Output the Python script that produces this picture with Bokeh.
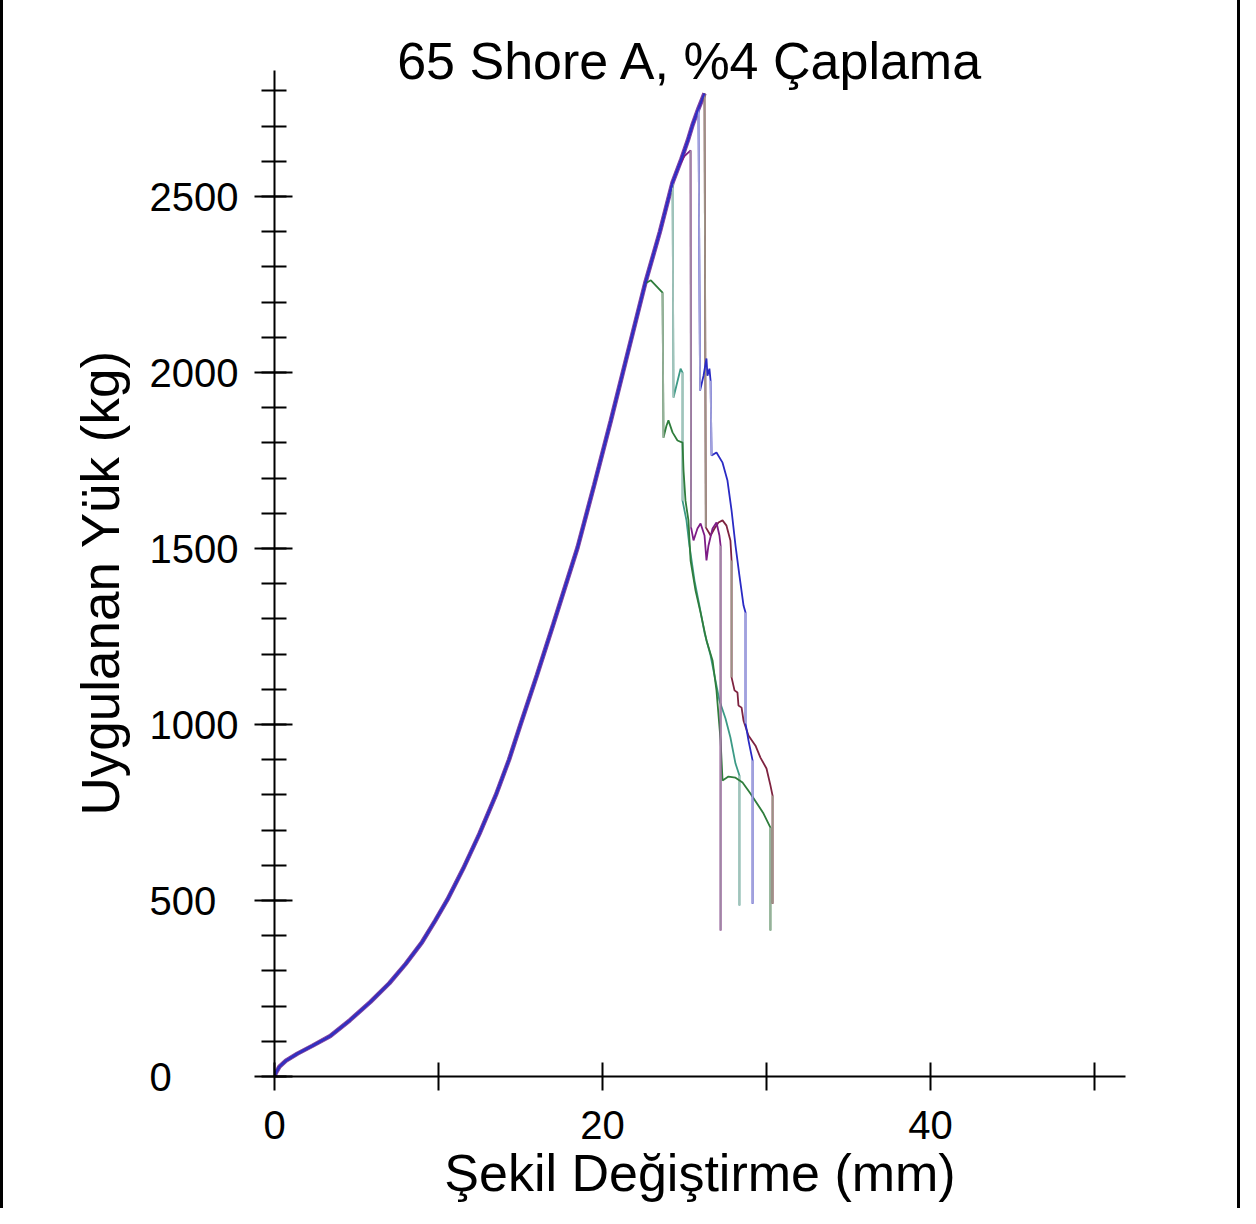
from bokeh.plotting import figure
from bokeh.models import SingleIntervalTicker, FixedTicker, Label, Range1d
from bokeh.embed import file_html
from bokeh.resources import INLINE

# ---- data (mm, kg) ----
rise_x = [0, 0.1, 0.3, 0.7, 1.4, 2.3, 3.4, 4.6, 5.85, 7.0, 8.0, 9.0, 9.8, 10.55, 11.5, 12.5,
          13.5, 14.3, 15.0, 16.0, 17.0, 18.48, 19.5, 20.5, 21.4, 22.6, 23.5, 24.27, 24.8,
          25.2, 25.5, 25.85, 26.22]
rise_y = [0, 12, 28, 45, 65, 87, 115, 160, 212, 265, 320, 382, 443, 503, 590, 690,
          800, 900, 1000, 1140, 1285, 1503, 1682, 1862, 2030, 2253, 2400, 2540, 2605,
          2659, 2705, 2750, 2793]

teal_x = [24.27, 24.33, 24.51, 24.76, 24.88, 24.88, 25.12, 25.3, 25.61, 25.91, 26.22, 26.59,
          26.83, 27.13, 27.5, 27.8, 28.11, 28.35, 28.35]
teal_y = [2540, 1929, 1963, 2011, 2000, 1636, 1580, 1508, 1409, 1338, 1261, 1196,
          1139, 1068, 1017, 963, 889, 855, 486]

green_x = [22.6, 22.95, 23.66, 23.72, 23.9, 24.02, 24.27, 24.57, 24.88, 24.94, 25.06, 25.24,
           25.37, 25.67, 25.98, 26.34, 26.71, 26.95, 27.2, 27.32, 27.68, 28.11, 28.54,
           29.02, 29.82, 30.24, 30.24]
green_y = [2253, 2262, 2227, 1815, 1849, 1864, 1830, 1807, 1801, 1722, 1636, 1580,
           1466, 1381, 1318, 1239, 1182, 1097, 955, 841, 852, 849, 835,
           804, 747, 707, 415]

brown_x = [26.22, 26.3, 26.59, 26.83, 27.07, 27.32, 27.56, 27.8, 27.87, 27.87, 28.05, 28.23,
           28.29, 28.48, 28.6, 28.9, 29.33, 29.63, 30.0, 30.24, 30.37, 30.37]
brown_y = [2793, 1560, 1537, 1557, 1574, 1580, 1565, 1523, 1466, 1134, 1097, 1091,
           1054, 1048, 1011, 969, 940, 906, 875, 827, 798, 491]

purple_x = [24.6, 25.0, 25.37, 25.4, 25.55, 25.79, 25.98, 26.22, 26.34, 26.46, 26.71, 26.95,
            27.13, 27.2, 27.2]
purple_y = [2580, 2615, 2631, 1560, 1523, 1557, 1571, 1537, 1466, 1508, 1557, 1574,
            1537, 1508, 415]

blue_x = [25.85, 25.95, 26.16, 26.34, 26.4, 26.52, 26.59, 26.65, 26.95, 27.32, 27.62, 27.87,
          28.11, 28.35, 28.6, 28.72, 28.72, 28.9, 29.15, 29.15]
blue_y = [2750, 1949, 1991, 2040, 1991, 2011, 1977, 1764, 1773, 1744, 1693, 1608,
          1508, 1423, 1338, 1318, 1003, 955, 898, 491]

x_ticks = [0, 10, 20, 30, 40, 50]
x_tick_labels = {0: "0", 10: "", 20: "20", 30: "", 40: "40", 50: ""}
y_tick_labels = {0: "0\u2007\u2007\u2007", 500: "500\u2007", 1000: "1000", 1500: "1500",
                 2000: "2000", 2500: "2500"}

title_text = "65 Shore A, %4 Çaplama"
x_label = "Şekil Değiştirme (mm)"
y_label = "Uygulanan Yük (kg)"

FONT = "Liberation Sans"
Y_AXIS_TOP = 2858

p = figure(width=1240, height=1208, output_backend="svg", toolbar_location=None,
           x_range=Range1d(0, 51.89), y_range=Range1d(0, 3057),
           min_border_left=271, min_border_right=118, min_border_top=0,
           min_border_bottom=132)
p.outline_line_color = None
p.grid.visible = False
p.background_fill_color = "white"
p.border_fill_color = "white"

series = [
    (teal_x, teal_y, "#3c9a86", "#a3c2ba"),
    (green_x, green_y, "#2f7d3c", "#97b09a"),
    (brown_x, brown_y, "#7e2340", "#9c9385"),
    (purple_x, purple_y, "#7d1c86", "#9f86a3"),
    (blue_x, blue_y, "#2a2ac4", "#a2a2da"),
]

# common loading curve underlay
p.line(rise_x, rise_y, line_color="#7b3fa8", line_width=4.5)

for fx, fy, col, light in series:
    xs = [x for x in rise_x if x < fx[0]] + list(fx)
    ys = [y for x, y in zip(rise_x, rise_y) if x < fx[0]] + list(fy)
    p.line(xs, ys, line_color=col, line_width=1.8)
    x0, y0, x1, y1 = [], [], [], []
    for i in range(len(xs) - 1):
        if abs(xs[i + 1] - xs[i]) < 0.11 and abs(ys[i + 1] - ys[i]) > 150:
            x0.append(xs[i]); y0.append(ys[i]); x1.append(xs[i + 1]); y1.append(ys[i + 1])
    p.segment(x0, y0, x1, y1, line_color=light, line_width=1.8)

p.line(rise_x, rise_y, line_color="#2f2fc8", line_width=2)

# axes
xa = p.xaxis[0]
xa.ticker = FixedTicker(ticks=x_ticks, minor_ticks=[])
xa.major_label_overrides = x_tick_labels
xa.major_tick_in = 14
xa.major_tick_out = 14
xa.axis_line_width = 2
xa.major_tick_line_width = 2
xa.major_label_text_font = FONT
xa.major_label_text_font_size = "40px"
xa.major_label_text_color = "black"
xa.major_label_standoff = 20
xa.axis_label = x_label
xa.axis_label_text_font = FONT
xa.axis_label_text_font_size = "52px"
xa.axis_label_text_font_style = "normal"
xa.axis_label_text_color = "black"
xa.axis_label_standoff = 2

ya = p.yaxis[0]
ya.ticker = SingleIntervalTicker(interval=500, num_minor_ticks=5)
ya.bounds = (0, Y_AXIS_TOP)
ya.major_label_overrides = y_tick_labels
ya.major_tick_in = 18
ya.major_tick_out = 20
ya.minor_tick_in = 12
ya.minor_tick_out = 13
ya.axis_line_width = 2
ya.major_tick_line_width = 2
ya.minor_tick_line_width = 2
ya.major_label_text_font = FONT
ya.major_label_text_font_size = "40px"
ya.major_label_text_color = "black"
ya.major_label_standoff = 16
ya.axis_label = y_label + "\u2007\u2007\u2007"
ya.axis_label_text_font = FONT
ya.axis_label_text_font_size = "53px"
ya.axis_label_text_font_style = "normal"
ya.axis_label_text_color = "black"
ya.axis_label_standoff = 17

p.add_layout(Label(x=25.37, y=2886, text=title_text, text_align="center",
                   text_baseline="alphabetic", text_font=FONT, text_font_size="52px",
                   text_color="black"))

p.styles = {"border-left": "3px solid black", "border-right": "3px solid black"}

open("out.html", "w").write(file_html(p, INLINE))
